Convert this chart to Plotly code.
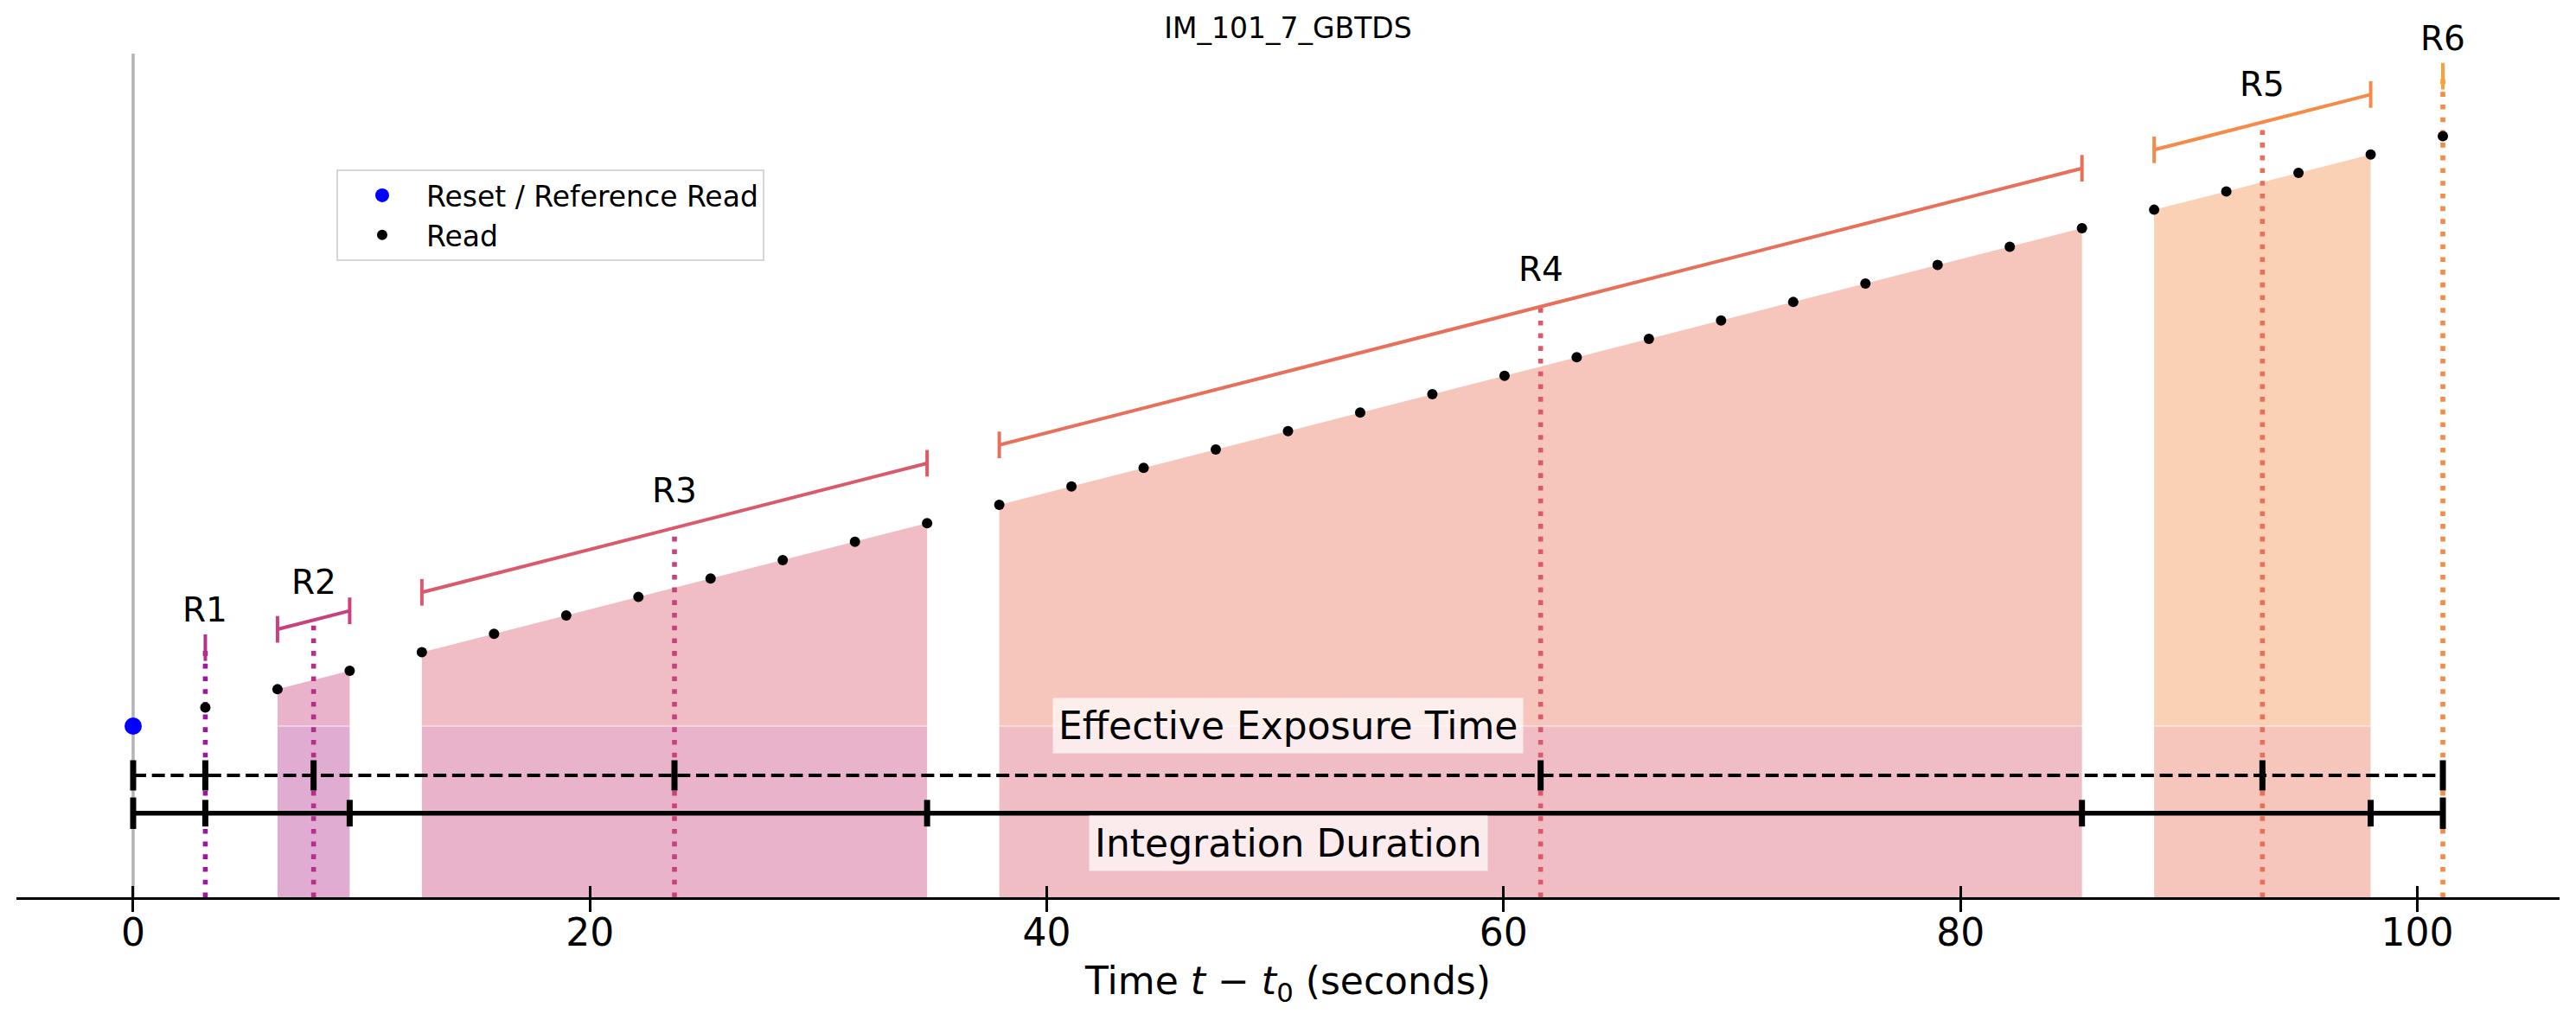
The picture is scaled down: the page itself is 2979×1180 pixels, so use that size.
import plotly.graph_objects as go

# ---------------- data ----------------
TITLE = "IM_101_7_GBTDS"
X_LABEL = "Time <i>t</i> − <i>t</i><sub>0</sub> (seconds)"

RESET_TIME = 0.0
RESET_VALUE = 1.0

READ_TIMES = [3.16, 6.32, 9.48, 12.64, 15.80, 18.96, 22.12, 25.28, 28.44, 31.60,
              34.76, 37.92, 41.08, 44.24, 47.40, 50.56, 53.72, 56.88, 60.04, 63.20,
              66.36, 69.52, 72.68, 75.84, 79.00, 82.16, 85.32, 88.48, 91.64, 94.80,
              97.96, 101.12]
READ_VALUES = [1.108, 1.215, 1.323, 1.431, 1.539, 1.646, 1.754, 1.862, 1.969, 2.077,
               2.185, 2.292, 2.400, 2.508, 2.616, 2.723, 2.831, 2.939, 3.046, 3.154,
               3.262, 3.369, 3.477, 3.585, 3.693, 3.800, 3.908, 4.016, 4.123, 4.231,
               4.339, 4.446]

RESULTANT_LABELS = ["R1", "R2", "R3", "R4", "R5", "R6"]
RESULTANT_FIRST_READ = [1, 2, 4, 12, 28, 32]
RESULTANT_LAST_READ = [1, 3, 11, 27, 31, 32]

X_TICKS = [0, 20, 40, 60, 80, 100]

# ---------------- style ----------------
PALETTE = ["#9c179e", "#b5308b", "#c9407f", "#da5a6c", "#e8705a", "#f58b46", "#faa233"]
FILL_ALPHA = 0.4
BRACKET_OFFSET = 0.35
EFFECTIVE_Y = 0.712
INTEGRATION_Y = 0.491
Y_MAX = 4.928
X_RANGE = [-5.11, 106.23]
FONT = "DejaVu Sans"


def rgba(hex_color, a):
    h = hex_color.lstrip("#")
    r, g, b = int(h[0:2], 16), int(h[2:4], 16), int(h[4:6], 16)
    return f"rgba({r},{g},{b},{a})"


fig = go.Figure()
annotations = []

last_time = READ_TIMES[-1]
mean_times = []
end_times = []

groups = []
for i, (f, l) in enumerate(zip(RESULTANT_FIRST_READ, RESULTANT_LAST_READ)):
    ts = READ_TIMES[f - 1:l]
    vs = READ_VALUES[f - 1:l]
    groups.append((ts, vs))
    mean_times.append(sum(ts) / len(ts))
    end_times.append(ts[-1])

# fills
for i, (ts, vs) in enumerate(groups):
    if len(ts) < 2:
        continue
    upper_c = PALETTE[i + 1]
    lower_c = PALETTE[i]
    fig.add_trace(go.Scatter(
        x=ts + [ts[-1], ts[0]], y=vs + [RESET_VALUE, RESET_VALUE],
        fill="toself", fillcolor=rgba(upper_c, FILL_ALPHA), mode="lines",
        line=dict(width=0), showlegend=False, hoverinfo="skip"))
    fig.add_trace(go.Scatter(
        x=[ts[0], ts[-1], ts[-1], ts[0]], y=[0, 0, RESET_VALUE, RESET_VALUE],
        fill="toself", fillcolor=rgba(lower_c, FILL_ALPHA), mode="lines",
        line=dict(width=0), showlegend=False, hoverinfo="skip"))
    fig.add_trace(go.Scatter(
        x=[ts[0], ts[-1]], y=[RESET_VALUE, RESET_VALUE], mode="lines",
        line=dict(width=1.5, color="rgba(255,255,255,0.55)"),
        showlegend=False, hoverinfo="skip"))

# gray reference vertical line at reset time
fig.add_trace(go.Scatter(
    x=[RESET_TIME, RESET_TIME], y=[0, Y_MAX], mode="lines",
    line=dict(color="#b3b3b3", width=3.5), showlegend=False, hoverinfo="skip"))

# dotted mean-time lines, brackets and labels
for i, (ts, vs) in enumerate(groups):
    mt = mean_times[i]
    mv = sum(vs) / len(vs)
    top = mv + BRACKET_OFFSET
    fig.add_trace(go.Scatter(
        x=[mt, mt], y=[0, top], mode="lines",
        line=dict(color=PALETTE[i], width=5.6, dash="5.6px,9.1px"),
        showlegend=False, hoverinfo="skip"))
    bx = [ts[0], ts[-1]] if len(ts) > 1 else [ts[0]]
    by = [vs[0] + BRACKET_OFFSET, vs[-1] + BRACKET_OFFSET] if len(ts) > 1 else [vs[0] + BRACKET_OFFSET]
    fig.add_trace(go.Scatter(
        x=bx, y=by, mode="lines+markers",
        line=dict(color=PALETTE[i + 1], width=4),
        marker=dict(symbol="line-ns", size=22, color=PALETTE[i + 1], opacity=1,
                    line=dict(color=PALETTE[i + 1], width=4)),
        showlegend=False, hoverinfo="skip"))
    annotations.append(dict(
        x=mt, y=top, xref="x", yref="y", text=RESULTANT_LABELS[i],
        showarrow=False, yanchor="bottom", xanchor="center", yshift=19,
        font=dict(family=FONT, size=39, color="black")))

# effective exposure time (dashed) line
fig.add_trace(go.Scatter(
    x=[RESET_TIME, last_time], y=[EFFECTIVE_Y, EFFECTIVE_Y], mode="lines",
    line=dict(color="black", width=4.2, dash="15px,6.7px"),
    showlegend=False, hoverinfo="skip"))
fig.add_trace(go.Scatter(
    x=[RESET_TIME] + mean_times, y=[EFFECTIVE_Y] * (len(mean_times) + 1),
    mode="markers",
    marker=dict(symbol="line-ns", size=25, color="black", opacity=1,
                line=dict(color="black", width=7)),
    showlegend=False, hoverinfo="skip"))

# integration duration (solid) line
fig.add_trace(go.Scatter(
    x=[RESET_TIME, last_time], y=[INTEGRATION_Y, INTEGRATION_Y], mode="lines",
    line=dict(color="black", width=5.5),
    showlegend=False, hoverinfo="skip"))
cap_x = [RESET_TIME] + end_times
cap_sizes = [26] + [22] * (len(end_times) - 1) + [26]
fig.add_trace(go.Scatter(
    x=cap_x, y=[INTEGRATION_Y] * len(cap_x), mode="markers",
    marker=dict(symbol="line-ns", size=cap_sizes, color="black", opacity=1,
                line=dict(color="black", width=7)),
    showlegend=False, hoverinfo="skip"))

annotations.append(dict(
    x=last_time / 2, y=RESET_VALUE, xref="x", yref="y",
    text="Effective Exposure Time", showarrow=False,
    xanchor="center", yanchor="middle", bgcolor="rgba(255,255,255,0.7)",
    borderpad=6, font=dict(family=FONT, size=44, color="black")))
annotations.append(dict(
    x=last_time / 2, y=INTEGRATION_Y, xref="x", yref="y",
    text="Integration Duration", showarrow=False,
    xanchor="center", yanchor="top", yshift=-2, bgcolor="rgba(255,255,255,0.7)",
    borderpad=6, font=dict(family=FONT, size=44, color="black")))

# reads and reset
fig.add_trace(go.Scatter(
    x=[RESET_TIME], y=[RESET_VALUE], mode="markers", name="Reset / Reference Read",
    marker=dict(color="blue", size=20), legendrank=1, hoverinfo="skip"))
fig.add_trace(go.Scatter(
    x=READ_TIMES, y=READ_VALUES, mode="markers", name="Read",
    marker=dict(color="black", size=12), legendrank=2, hoverinfo="skip"))

# helper trace for inside tick marks axis
fig.add_trace(go.Scatter(x=[], y=[], xaxis="x2", showlegend=False, hoverinfo="skip"))

fig.update_layout(
    width=2979, height=1180, autosize=False,
    margin=dict(l=19, r=19, t=62, b=142),
    paper_bgcolor="white", plot_bgcolor="white",
    title=dict(text=TITLE, x=0.5, xanchor="center", y=1 - 32 / 1180, yanchor="middle",
               yref="container", font=dict(family=FONT, size=33, color="black")),
    xaxis=dict(range=X_RANGE, tickvals=X_TICKS, ticktext=[str(t) for t in X_TICKS],
               ticks="outside", ticklen=14, tickwidth=3, tickcolor="black",
               showline=True, linecolor="black", linewidth=3,
               showgrid=False, zeroline=False, ticklabelstandoff=-14,
               tickfont=dict(family=FONT, size=44, color="black"),
               title=dict(text=X_LABEL, standoff=17,
                          font=dict(family=FONT, size=44, color="black"))),
    xaxis2=dict(range=X_RANGE, tickvals=X_TICKS, overlaying="x", anchor="y", side="bottom",
                ticks="inside", ticklen=13, tickwidth=3, tickcolor="black",
                showticklabels=False, showline=False, showgrid=False, zeroline=False),
    yaxis=dict(range=[0, Y_MAX], visible=False, showgrid=False, zeroline=False),
    legend=dict(x=0.1258, y=0.8627, xanchor="left", yanchor="top", itemwidth=92,
                bordercolor="#d5d5d5", borderwidth=2, bgcolor="rgba(255,255,255,0.8)",
                font=dict(family=FONT, size=33, color="black")),
    annotations=annotations,
)

fig.write_html("out.html",
               config={"displayModeBar": False},
               post_script="document.body.style.margin='0px';"
                           "document.body.style.overflow='hidden';")
